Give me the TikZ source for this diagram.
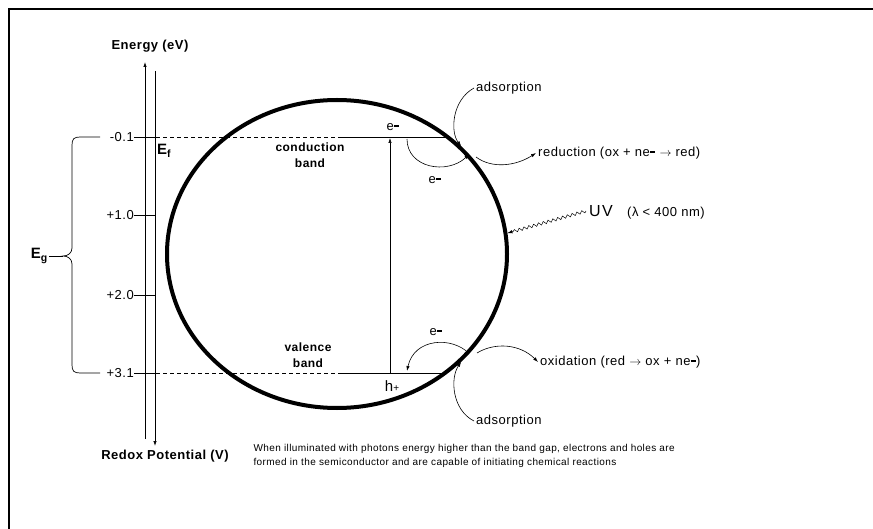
\documentclass[tikz,border=0pt]{standalone}
\usepackage{fontspec}
\setmainfont{Liberation Sans}[LetterSpace=4]
\usetikzlibrary{positioning,arrows.meta,shapes.geometric,decorations.pathmorphing}
\newcommand{\sminus}{\raisebox{0.55ex}{\rule{0.42em}{0.14em}}}
\tikzset{
  thinline/.style={line width=0.7pt},
  tip/.style={-{Latex[length=5pt,width=3.4pt]}},
  lbl/.style={font=\fontsize{13}{15}\selectfont,inner sep=2pt},
  axislbl/.style={font=\bfseries\fontsize{13}{15}\selectfont},
  bandlbl/.style={font=\bfseries\fontsize{12}{16}\selectfont,align=center},
  flow/.style={line width=0.6pt,tip},
}

\begin{document}
\begin{tikzpicture}[x=1pt,y=-1pt]
    \useasboundingbox (0,0) rectangle (873,529);
    % frame
    \draw[line width=2.5pt] (9,529) -- (9,9) -- (873,9);
    % ---- twin axis: energy up, redox potential down
    \node[axislbl] (lblEnergy) at (150,46) {Energy (eV)};
    \node[axislbl] (lblRedox) at (165,456) {Redox Potential (V)};
    \coordinate (eBot) at (145,439); \coordinate (eTop) at (145,62);
    \coordinate (rTop) at (155,71); \coordinate (rBot) at (155,446);
    \draw[thinline,tip] (eBot) -- (eTop);
    \draw[thinline,tip] (rTop) -- (rBot);
    \foreach \v/\y/\n in {-0.1/137/a,+1.0/215/b,+2.0/295/c,+3.1/373/d}{
      \node[lbl,anchor=east,inner sep=0pt] (tk\n) at (134,\y) {\v};
      \draw[thinline] (tk\n.east) -- ++(22,0) coordinate (tk\n R);}
    \node[font=\bfseries\fontsize{15}{17}\selectfont,anchor=west,inner sep=0pt] (lblEf) at (157,151) {E\textsubscript{f}};
    % band gap brace
    \draw[thinline] (100,137) -- (80,137) .. controls (74,137) and (72,139) .. (72,145)
      -- (72,248) .. controls (72,253) and (68,256) .. (63,256)
      .. controls (68,256) and (72,259) .. (72,264) -- (72,365)
      .. controls (72,371) and (74,373) .. (80,373) -- (100,373);
    \node[font=\bfseries\fontsize{15}{17}\selectfont,anchor=east,inner sep=1pt] (lblEg) at (49,256) {E\textsubscript{g}};
    \draw[thinline] (lblEg.east) -- (63,256);
    % ---- bands
    \coordinate (cbL) at (340,137); \coordinate (cbR) at (445,137);
    \coordinate (vbL) at (340,373); \coordinate (vbR) at (443,373);
    \draw[thinline,dash pattern=on 4pt off 3pt] (tkaR) -- (cbL);
    \draw[thinline,dash pattern=on 4pt off 3pt] (tkdR) -- (vbL);
    \draw[thinline] (cbL) -- (cbR);
    \draw[thinline] (vbL) -- (vbR);
    \coordinate (cbX) at (390,138); \coordinate (vbX) at (390,373);
    \draw[flow] (vbX) -- (cbX);
    \node[bandlbl] (lblCB) at (310,155) {conduction\\band};
    \node[bandlbl] (lblVB) at (308,355) {valence\\band};
    % semiconductor particle
    \node[draw,ellipse,line width=4pt,minimum width=340,minimum height=308,inner sep=0pt] (grain) at (337,254) {};
    % ---- charge carriers
    \node[lbl] (eCB) at (393,127) {e\sminus};
    \node[lbl] (eOut) at (435,180) {e\sminus};
    \node[lbl] (eIn) at (436,332) {e\sminus};
    \node[font=\fontsize{15}{17}\selectfont] (hVB) at (392,386) {h{\fontsize{10}{12}\selectfont +}};
    \draw[flow] (407,139) .. controls (407,168) and (447,175) .. (grain.37);
    \draw[flow] (grain.-37) .. controls (452,336) and (414,338) .. (407,371);
    % ---- surface reactions
    \node[lbl,anchor=west] (adsA) at (474,88) {adsorption};
    \node[lbl,anchor=west] (adsB) at (474,421) {adsorption};
    \node[lbl,anchor=west] (lblRed) at (536,153) {reduction (ox + ne\sminus{} $\rightarrow$ red)};
    \node[lbl,anchor=west] (lblOx) at (538,362) {oxidation (red $\rightarrow$ ox + ne\sminus)};
    \draw[flow] (adsA.west) .. controls (452,100) and (450,132) .. (grain.41);
    \draw[flow] (adsB.west) .. controls (452,410) and (450,378) .. (grain.-41);
    \draw[flow] (476,157) .. controls (492,169) and (516,166) .. (lblRed.west);
    \draw[flow] (477,353) .. controls (495,342) and (520,344) .. (lblOx.west);
    % ---- illumination
    \node[anchor=west,font=\fontsize{16}{18}\selectfont,inner sep=3pt] (lblUV) at (586,211) {U\hspace{1.5pt}V};
    \node[lbl,anchor=west] (lblLambda) at (625,213) {(λ < 400 nm)};
    \draw[line width=0.5pt,tip,decorate,decoration={snake,amplitude=1.5pt,segment length=5pt,post length=5pt}]
      (lblUV.west) -- (grain.7);
    \node[anchor=west,align=left,font=\fontsize{10}{13.5}\selectfont] (lblNote) at (250,456)
      {When illuminated with photons energy higher than the band gap, electrons and holes are\\
       formed in the semiconductor and are capable of initiating chemical reactions};
\end{tikzpicture}
\end{document}
